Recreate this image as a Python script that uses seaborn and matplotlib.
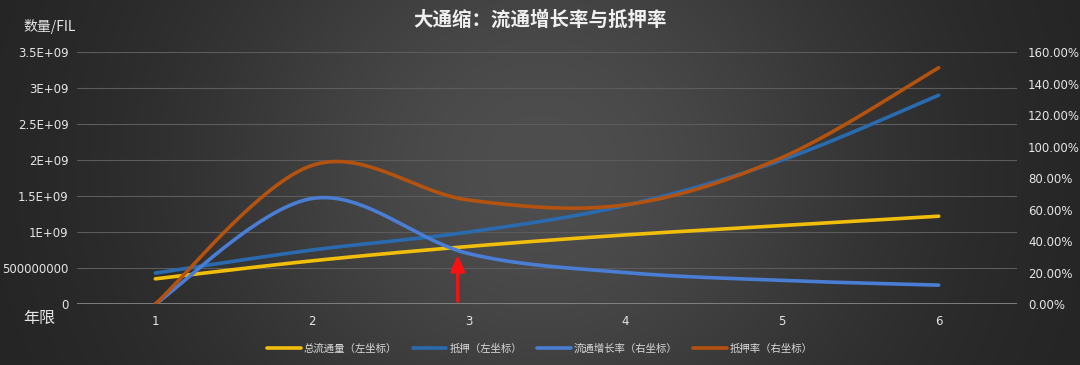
import numpy as np
import pandas as pd
import matplotlib
matplotlib.use("Agg")
import matplotlib.pyplot as plt
import seaborn as sns

years = [1, 2, 3, 4, 5, 6]
total_circ = [0.35e9, 0.60e9, 0.80e9, 0.96e9, 1.09e9, 1.22e9]       # 总流通量 (左坐标)
pledge = [0.43e9, 0.75e9, 1.00e9, 1.37e9, 2.00e9, 2.90e9]           # 抵押 (左坐标)
circ_growth = [0.0, 0.67, 0.32, 0.20, 0.15, 0.12]                   # 流通增长率 (右坐标)
pledge_rate = [0.0, 0.88, 0.66, 0.63, 0.93, 1.50]                   # 抵押率 (右坐标)

left_ticks = [0, 5e8, 1e9, 1.5e9, 2e9, 2.5e9, 3e9, 3.5e9]
left_labels = ["0", "500000000", "1E+09", "1.5E+09", "2E+09", "2.5E+09", "3E+09", "3.5E+09"]
right_ticks = [0, 0.2, 0.4, 0.6, 0.8, 1.0, 1.2, 1.4, 1.6]
right_labels = ["0.00%", "20.00%", "40.00%", "60.00%", "80.00%", "100.00%", "120.00%", "140.00%", "160.00%"]

names = ["总流通量（左坐标）", "抵押（左坐标）", "流通增长率（右坐标）", "抵押率（右坐标）"]
colors = ["#F2BE0C", "#2A6BB0", "#4A7DD4", "#B4520F"]

arrow_x = 2.93
arrow_top = 0.72e9

sns.set_theme(style="dark")
plt.rcParams["font.family"] = ["Noto Sans CJK SC", "DejaVu Sans"]


def smooth(xs, ys, n=40):
    # Excel-style smoothed line (cubic Bezier, Catmull-Rom control points)
    P = np.column_stack([xs, ys]).astype(float)
    P = np.vstack([P[0], P, P[-1]])
    out = []
    for i in range(1, len(P) - 2):
        p0, p1, p2, p3 = P[i - 1], P[i], P[i + 1], P[i + 2]
        c1 = p1 + (p2 - p0) / 6
        c2 = p2 - (p3 - p1) / 6
        t = np.linspace(0, 1, n)[:, None]
        seg = (1 - t) ** 3 * p1 + 3 * (1 - t) ** 2 * t * c1 + 3 * (1 - t) * t ** 2 * c2 + t ** 3 * p2
        out.append(seg if i == 1 else seg[1:])
    out = np.vstack(out)
    return out[:, 0], out[:, 1]


fig = plt.figure(figsize=(10.8, 3.65), dpi=100)

# background gradient
bg = fig.add_axes([0, 0, 1, 1], zorder=-10)
gx, gy = np.meshgrid(np.linspace(0, 1, 400), np.linspace(0, 1, 150))
val = 34 + 44 * np.exp(-((gx - 0.5) / 0.33) ** 2 - ((gy - 0.55) / 0.9) ** 2)
img = np.dstack([val, val, val]) / 255.0
bg.imshow(img, aspect="auto", extent=[0, 1, 0, 1], origin="lower")
bg.axis("off")

ax = fig.add_axes([0.0713, 0.167, 0.8704, 0.6905])
ax.set_facecolor("none")
ax2 = ax.twinx()

rows = []
for name, data in zip(names[:2], [total_circ, pledge]):
    sx, sy = smooth(years, data)
    rows.append(pd.DataFrame({"x": sx, "y": sy, "series": name}))
left_df = pd.concat(rows)
rows = []
for name, data in zip(names[2:], [circ_growth, pledge_rate]):
    sx, sy = smooth(years, data)
    rows.append(pd.DataFrame({"x": sx, "y": sy, "series": name}))
right_df = pd.concat(rows)

sns.lineplot(data=left_df, x="x", y="y", hue="series", palette=dict(zip(names[:2], colors[:2])),
             sort=False, estimator=None, lw=2.6, ax=ax, legend=False)
sns.lineplot(data=right_df, x="x", y="y", hue="series", palette=dict(zip(names[2:], colors[2:])),
             sort=False, estimator=None, lw=2.6, ax=ax2, legend=False)

ax.set_xlim(0.5, 6.5)
ax.set_ylim(0, 3.5e9)
ax2.set_ylim(0, 1.6)

ax.set_yticks(left_ticks)
ax.set_yticklabels(left_labels)
ax2.set_yticks(right_ticks)
ax2.set_yticklabels(right_labels)
ax.set_xticks(years)
ax.set_xticklabels([str(y) for y in years])

tick_color = "#E6E6E6"
ax.tick_params(axis="y", colors=tick_color, labelsize=8.5, length=0, pad=6)
ax.tick_params(axis="x", colors=tick_color, labelsize=8.5, length=0, pad=8)
ax2.tick_params(axis="y", colors=tick_color, labelsize=8.5, length=0, pad=8)
for lab in ax.get_yticklabels() + ax.get_xticklabels() + ax2.get_yticklabels():
    lab.set_family(["DejaVu Sans"])

ax.grid(False)
ax2.grid(False)
for t in left_ticks[1:]:
    ax.axhline(t, color="#5C5C5C", lw=0.8, zorder=0)
ax.axhline(0, color="#8C8C8C", lw=1.2, zorder=0)
for a in (ax, ax2):
    for s in a.spines.values():
        s.set_visible(False)
ax.set_xlabel("")
ax.set_ylabel("")
ax2.set_ylabel("")

ax2.set_zorder(ax.get_zorder() + 1)
ax2.patch.set_visible(False)

# red arrow
ax.annotate("", xy=(arrow_x, arrow_top), xytext=(arrow_x, 0),
            arrowprops=dict(arrowstyle="-|>,head_length=0.8,head_width=0.35", color="#FF1010", lw=2.2),
            zorder=20, annotation_clip=False)

fig.text(0.5, 0.945, "大通缩：流通增长率与抵押率", ha="center", va="center",
         color="#F0F0F0", fontsize=14, fontweight="bold")
fig.text(0.046, 0.927, "数量/FIL", ha="center", va="center", color="#E6E6E6", fontsize=10)
fig.text(0.036, 0.128, "年限", ha="center", va="center", color="#E6E6E6", fontsize=11.5)

handles = [plt.Line2D([], [], color=c, lw=2.6) for c in colors]
fig.legend(handles, names, loc="center", bbox_to_anchor=(0.5, 0.045), ncol=4, frameon=False,
           fontsize=7.5, labelcolor="#DADADA", handlelength=3.2, columnspacing=1.5, handletextpad=0.3)

fig.savefig("out.png", dpi=100)
